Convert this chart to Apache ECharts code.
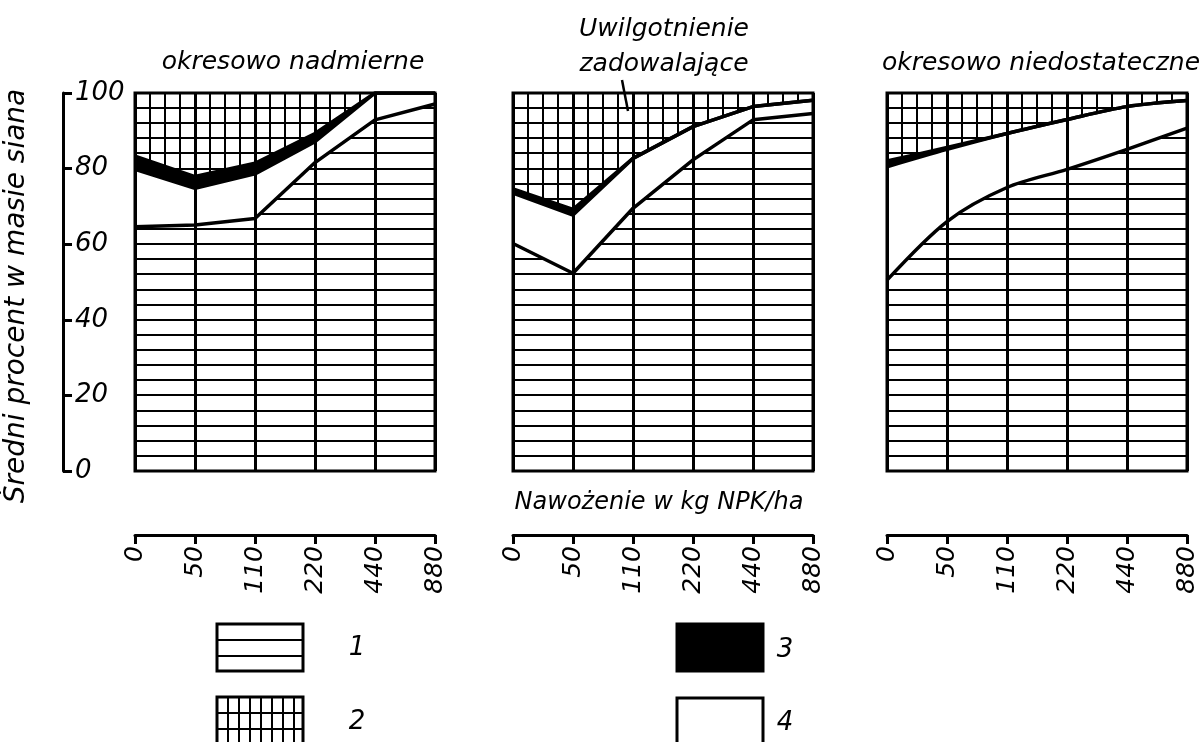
<!DOCTYPE html>
<html>
<head>
<meta charset="utf-8">
<script src="https://cdn.jsdelivr.net/npm/echarts@6/dist/echarts.min.js"></script>
<style>
  html, body { margin: 0; padding: 0; background: #fff; }
  #chart { width: 1201px; height: 742px; }
</style>
</head>
<body>
<div id="chart"></div>
<script>
// nawożenie w kg NPK/ha
var doses = ['0', '50', '110', '220', '440', '880'];
var yTicks = [0, 20, 40, 60, 80, 100];

// boundaries (% of hay mass)
// lower = top of layer 1, white = top of layer 4, black = top of layer 3, layer 2 up to 100
var nadLower = [64.6, 65.1, 66.8, 81.6, 92.9, 97.1];
var nadWhite = [79.8, 74.8, 78.6, 87.1, 100, 100];
var nadBlack = [83.3, 77.9, 81.4, 89.3, 100, 100];

var zadLower = [60.2, 52.3, 69.5, 82.3, 92.9, 94.6];
var zadWhite = [73.5, 67.7, 82.7, 91.1, 96.4, 98.1];
var zadBlack = [74.6, 69.2, 82.7, 91.1, 96.4, 98.1];

var niedLower = [50.5, 66.0, 75.0, 79.8, 85.1, 90.7];
var niedWhite = [80.5, 85.1, 89.3, 93.0, 96.4, 98.0];
var niedBlack = [82.0, 85.6, 89.3, 93.0, 96.4, 98.0];

var titles = ['okresowo nadmierne', 'Uwilgotnienie\nzadowalające', 'okresowo niedostateczne'];

var FONT = "'DejaVu Sans', sans-serif";
var TOP = 93, H = 378, W = 300;
var lefts = [135, 513, 887];

// hatching tiles, anchored to the page so the lines fall on the panel grid
function hatch(ox, grid) {
    var c = document.createElement('canvas');
    c.width = 60; c.height = H;
    var g = c.getContext('2d');
    g.fillStyle = '#000';
    for (var k = 0; k <= 25; k++) {
        var y = Math.round(((TOP + k * H / 25) % H));
        g.fillRect(0, y - 1, 60, 2);
        g.fillRect(0, y - 1 - H, 60, 2);
        g.fillRect(0, y - 1 + H, 60, 2);
    }
    if (grid) {
        for (var j = 0; j < 4; j++) {
            var x = (ox + j * 15) % 60;
            g.fillRect(x - 1, 0, 2, H);
            g.fillRect(x - 1 + 60, 0, 2, H);
            g.fillRect(x - 1 - 60, 0, 2, H);
        }
    }
    return {image: c, repeat: 'repeat'};
}

function smallHatch(w, h, ox, oy, grid) {
    var c = document.createElement('canvas');
    c.width = w; c.height = h;
    var g = c.getContext('2d');
    g.fillStyle = '#000';
    [-h, 0, h].forEach(function (d) { g.fillRect(0, oy - 1 + d, w, 2); });
    if (grid) [-w, 0, w].forEach(function (d) { g.fillRect(ox - 1 + d, 0, 2, h); });
    return {image: c, repeat: 'repeat'};
}

var panels = [
    [nadLower, nadWhite, nadBlack, false],
    [zadLower, zadWhite, zadBlack, false],
    [niedLower, niedWhite, niedBlack, 0.3]
];

var grids = [], xAxes = [], yAxes = [], series = [];

panels.forEach(function (p, i) {
    var lower = p[0], white = p[1], black = p[2], smooth = p[3];
    grids.push({
        left: lefts[i], top: TOP, width: W, height: H,
        show: true, borderColor: '#000', borderWidth: 3, backgroundColor: 'transparent'
    });
    xAxes.push({
        gridIndex: i, type: 'category', data: doses, boundaryGap: false,
        offset: 64,
        axisLine: {onZero: false, lineStyle: {color: '#000', width: 3}},
        axisTick: {length: 9, lineStyle: {color: '#000', width: 3}},
        axisLabel: {
            interval: 0, rotate: 90, margin: 11, color: '#000',
            fontFamily: FONT, fontStyle: 'italic', fontSize: 25
        },
        splitLine: {show: true, lineStyle: {color: '#000', width: 3}}
    });
    yAxes.push({gridIndex: i, type: 'value', min: 0, max: 100, show: false});

    var layers = [
        lower,
        white.map(function (v, k) { return +(v - lower[k]).toFixed(2); }),
        black.map(function (v, k) { return +(v - white[k]).toFixed(2); }),
        black.map(function (v) { return +(100 - v).toFixed(2); })
    ];
    var fills = [hatch(0, false), 'rgba(0,0,0,0)', '#000', hatch(lefts[i] % 60, true)];
    layers.forEach(function (d, j) {
        series.push({
            name: 'p' + i + 'l' + j,
            type: 'line',
            xAxisIndex: i, yAxisIndex: i,
            stack: 'panel' + i,
            data: d,
            smooth: smooth,
            showSymbol: false,
            symbol: 'none',
            lineStyle: {color: '#000', width: j === 3 ? 0 : 3.5},
            areaStyle: {color: fills[j], opacity: 1},
            emphasis: {disabled: true},
            silent: true
        });
    });
});

// the separate y scale on the left
grids.push({left: 63, top: TOP, width: 1, height: H});
xAxes.push({gridIndex: 3, type: 'value', show: false});
yAxes.push({
    gridIndex: 3, type: 'value', min: yTicks[0], max: yTicks[yTicks.length - 1], interval: 20,
    position: 'left',
    name: 'Średni procent w masie siana', nameLocation: 'middle', nameGap: 32, nameRotate: 90,
    nameTextStyle: {color: '#000', fontFamily: FONT, fontStyle: 'italic', fontSize: 28, padding: [0, 28, 0, 0]},
    axisLine: {show: true, onZero: false, lineStyle: {color: '#000', width: 3}},
    axisTick: {show: true, inside: true, length: 9, lineStyle: {color: '#000', width: 3}},
    axisLabel: {inside: true, margin: 12, color: '#000', fontFamily: FONT, fontStyle: 'italic', fontSize: 26},
    splitLine: {show: false}
});

var txt = function (x, y, s, size, extra) {
    var o = {
        type: 'text', x: x, y: y, silent: true,
        style: {text: s, fill: '#000', font: 'italic ' + size + 'px ' + FONT, align: 'center', verticalAlign: 'middle'}
    };
    if (extra) Object.assign(o.style, extra);
    return o;
};

var graphic = [
    txt(293, 62, titles[0], 25),
    txt(664, 47, titles[1], 25, {lineHeight: 35}),
    txt(1041, 63, titles[2], 25),
    txt(659, 503, 'Nawożenie w kg NPK/ha', 24),
    {type: 'line', silent: true, shape: {x1: 622, y1: 80, x2: 628, y2: 111}, style: {stroke: '#000', lineWidth: 2.5}},
    // legend
    {type: 'rect', silent: true, shape: {x: 217, y: 624, width: 86, height: 47},
        style: {fill: smallHatch(20, 16, 0, 640 % 16, false), stroke: '#000', lineWidth: 3}},
    {type: 'rect', silent: true, shape: {x: 217, y: 697, width: 86, height: 52},
        style: {fill: smallHatch(11, 16, 217 % 11, 713 % 16, true), stroke: '#000', lineWidth: 3}},
    {type: 'rect', silent: true, shape: {x: 677, y: 624, width: 86, height: 47},
        style: {fill: '#000', stroke: '#000', lineWidth: 3}},
    {type: 'rect', silent: true, shape: {x: 677, y: 698, width: 86, height: 52},
        style: {fill: '#fff', stroke: '#000', lineWidth: 3}},
    txt(357, 648, '1', 26),
    txt(357, 722, '2', 26),
    txt(785, 650, '3', 26),
    txt(785, 723, '4', 26)
];

var chart = echarts.init(document.getElementById('chart'), null, {renderer: 'canvas'});
chart.setOption({
    animation: false,
    backgroundColor: '#fff',
    grid: grids,
    xAxis: xAxes,
    yAxis: yAxes,
    series: series,
    graphic: graphic
});
</script>
</body>
</html>
